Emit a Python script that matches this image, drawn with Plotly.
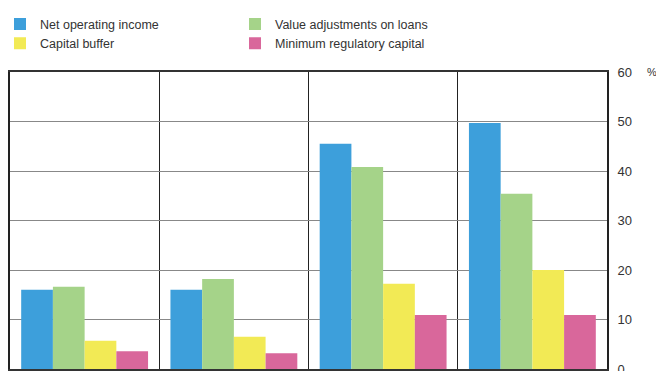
import plotly.graph_objects as go

groups = [0, 1, 2, 3]
series_names = ["Net operating income", "Value adjustments on loans", "Capital buffer", "Minimum regulatory capital"]
net_operating_income = [16.0, 16.0, 45.5, 49.7]
value_adjustments = [16.6, 18.2, 40.8, 35.4]
capital_buffer = [5.7, 6.5, 17.2, 20.0]
min_reg_capital = [3.6, 3.2, 10.9, 10.9]
colors = ["#3d9fdb", "#a5d389", "#f2ea55", "#d9679b"]
y_ticks = [0, 10, 20, 30, 40, 50, 60]

fig = go.Figure()
for name, vals, c in zip(series_names, [net_operating_income, value_adjustments, capital_buffer, min_reg_capital], colors):
    fig.add_trace(go.Bar(x=groups, y=vals, name=name, marker=dict(color=c, line=dict(width=0))))

font = "Liberation Sans Narrow, Liberation Sans, Arial, sans-serif"
fig.update_layout(
    width=656, height=371,
    margin=dict(l=10, r=49, t=72, b=2, autoexpand=False),
    paper_bgcolor="white", plot_bgcolor="white",
    barmode="group", bargap=0.15, bargroupgap=0,
    font=dict(family=font, size=12, color="#333"),
    legend=dict(orientation="h", x=0.0, y=0.975, xref="container", yref="container", xanchor="left", yanchor="top",
                entrywidth=190, entrywidthmode="pixels", traceorder="normal",
                font=dict(size=12.5, color="#333"), itemwidth=30),
    showlegend=True,
)
fig.update_xaxes(range=[-0.5, 3.5], tick0=0.5, dtick=1, showgrid=True, gridcolor="#222", gridwidth=1,
                 showticklabels=False, ticks="", showline=True, linecolor="#333", linewidth=2, mirror=True,
                 zeroline=False)
fig.update_yaxes(range=[0, 60], tickvals=y_ticks, side="right", showgrid=True, gridcolor="#888", gridwidth=1,
                 ticks="", showline=True, linecolor="#222", linewidth=2, mirror=True, zeroline=False,
                 tickfont=dict(size=13, color="#333"), ticklabelstandoff=6, ticklabeloverflow="allow")
fig.add_annotation(text="%", xref="paper", yref="paper", x=1.0, y=1.0, xshift=38, showarrow=False,
                   xanchor="left", yanchor="middle", font=dict(size=11, color="#333"))
fig.write_html("out.html", config={"displayModeBar": False},
               post_script="document.body.style.margin='0px';document.body.style.overflow='hidden';")
